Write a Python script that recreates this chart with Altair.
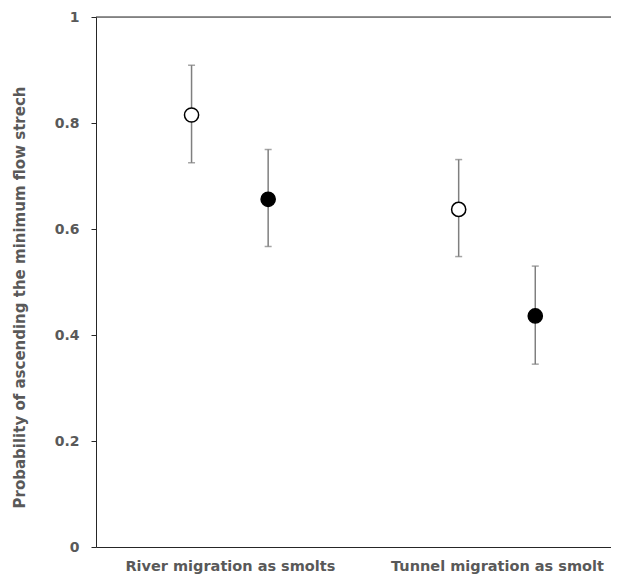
import altair as alt
import pandas as pd

categories = ["River migration as smolts", "Tunnel migration as smolt"]
groups = ["open", "filled"]
# per (category, group): mean, lower, upper
cat_col = ["River migration as smolts", "River migration as smolts",
           "Tunnel migration as smolt", "Tunnel migration as smolt"]
grp_col = ["open", "filled", "open", "filled"]
means = [0.815, 0.656, 0.637, 0.436]
lowers = [0.725, 0.567, 0.548, 0.345]
uppers = [0.909, 0.750, 0.731, 0.530]
y_ticks = [0, 0.2, 0.4, 0.6, 0.8, 1]

df = pd.DataFrame({"cat": cat_col, "grp": grp_col, "mean": means,
                   "lo": lowers, "hi": uppers})

GRAY = "#595959"
AXC = "#262626"

x_enc = alt.X("cat:N", sort=categories, title=None,
              scale=alt.Scale(type="point", padding=0.464, align=0.540),
              axis=alt.Axis(ticks=False, domainColor=AXC, domainWidth=1,
                            labelAngle=0, labelFont="DejaVu Sans",
                            labelFontSize=14.5, labelFontWeight="bold",
                            labelColor=GRAY, labelPadding=12, labelLimit=400))
xo_enc = alt.XOffset("grp:N", sort=groups,
                     scale=alt.Scale(type="point", padding=0, domain=groups,
                                     range=[-38.3, 38.3]))
y_scale = alt.Scale(domain=[0, 1], nice=False)
y_enc = alt.Y("mean:Q", scale=y_scale,
              title="Probability of ascending the minimum flow strech",
              axis=alt.Axis(values=y_ticks, format="~g", grid=False,
                            tickSize=5, tickColor=AXC, domainColor=AXC,
                            labelFont="DejaVu Sans", labelFontSize=14,
                            labelFontWeight="bold", labelColor=GRAY,
                            labelPadding=12,
                            titleFont="DejaVu Sans", titleFontSize=15,
                            titleFontWeight="bold", titleColor=GRAY,
                            titleX=-76.5, titleY=280, titleBaseline="middle"))

base = alt.Chart(df)

bars = base.mark_rule(color="#7f7f7f", strokeWidth=1.5).encode(
    x=x_enc, xOffset=xo_enc,
    y=alt.Y("lo:Q", scale=y_scale), y2="hi:Q")
caps_lo = base.mark_tick(color="#7f7f7f", thickness=1.5, size=7).encode(
    x=x_enc, xOffset=xo_enc, y=alt.Y("lo:Q", scale=y_scale))
caps_hi = base.mark_tick(color="#7f7f7f", thickness=1.5, size=7).encode(
    x=x_enc, xOffset=xo_enc, y=alt.Y("hi:Q", scale=y_scale))
pts = base.mark_point(shape="circle", size=200, filled=True,
                      stroke="black", strokeWidth=1.5, opacity=1).encode(
    x=x_enc, xOffset=xo_enc, y=y_enc,
    fill=alt.Fill("grp:N", scale=alt.Scale(domain=groups,
                                           range=["white", "black"]),
                  legend=None))
top = alt.Chart(pd.DataFrame({"v": [1]})).mark_rule(
    color=AXC, strokeWidth=1).encode(y=alt.Y("v:Q", scale=y_scale))

chart = alt.layer(top, bars, caps_lo, caps_hi, pts).properties(
    width=515, height=530,
    autosize=alt.AutoSizeParams(type="none"),
    padding={"left": 88, "top": 9, "right": 0, "bottom": 31},
).configure_view(stroke=None).configure(background="white")

chart.save("out.html", embed_options={"renderer": "svg", "actions": False})
